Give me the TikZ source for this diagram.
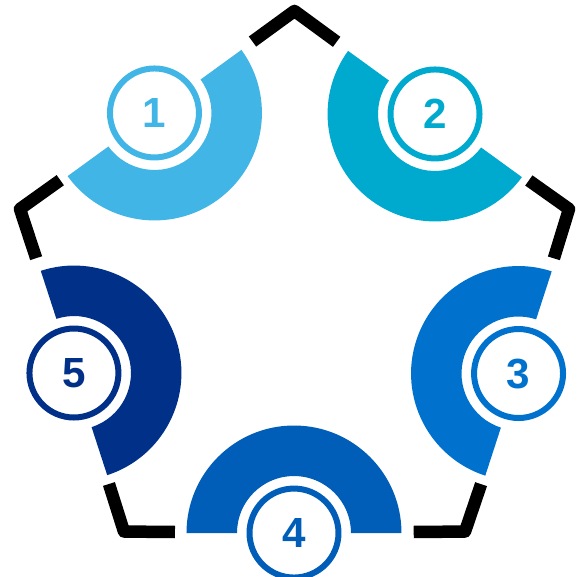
\documentclass[tikz,border=0pt]{standalone}
\usepackage{fontspec}
\setmainfont{Liberation Sans}
\usepackage{tikz}
\usetikzlibrary{calc}
\definecolor{stepone}{HTML}{41B6E6}
\definecolor{steptwo}{HTML}{00A9CE}
\definecolor{stepthree}{HTML}{0072CE}
\definecolor{stepfour}{HTML}{005EB8}
\definecolor{stepfive}{HTML}{003087}
\tikzset{
  frame line/.style={
    line width=0.25cm,
    black,
    line join=round
  },
  num circle/.style={
    circle,
    draw=#1,
    line width=0.12cm,
    fill=white,
    minimum size=1.78cm,
    inner sep=0pt,
    text=#1,
    font=\fontsize{24}{24}\selectfont\bfseries
  }
}

\begin{document}
\begin{tikzpicture}[scale=0.02]
  \useasboundingbox (-294.5,-277) rectangle (282.5,300);

  % pentagon corners and edge midpoints
  \coordinate (v1) at (0,289);
  \coordinate (v2) at (274.5,91);
  \coordinate (v3) at (170.5,-231.5);
  \coordinate (v4) at (-170.5,-231.5);
  \coordinate (v5) at (-274.5,91);
  \coordinate (m1) at (-140,187);
  \coordinate (m2) at (140.5,186);
  \coordinate (m3) at (224,-73.5);
  \coordinate (m4) at (-0.5,-233);
  \coordinate (m5) at (-220.5,-73);

  % black corner pieces
  \draw[frame line] ($(v1)!0.3!(m1)$) -- (v1) -- ($(v1)!0.3!(m2)$);
  \draw[frame line] ($(v2)!0.3!(m2)$) -- (v2) -- ($(v2)!0.3!(m3)$);
  \draw[frame line] ($(v3)!0.3!(m3)$) -- (v3) -- ($(v3)!0.3!(m4)$);
  \draw[frame line] ($(v4)!0.3!(m4)$) -- (v4) -- ($(v4)!0.3!(m5)$);
  \draw[frame line] ($(v5)!0.3!(m5)$) -- (v5) -- ($(v5)!0.3!(m1)$);

  % half rings
  \begin{scope}[shift={(-140,187)}, rotate=126]
    \fill[stepone] (90:107.5) arc[start angle=90, end angle=270, radius=107.5] -- (270:57) arc[start angle=270, end angle=90, radius=57] -- cycle;
  \end{scope}
  \begin{scope}[shift={(140.5,186)}, rotate=54]
    \fill[steptwo] (90:107.5) arc[start angle=90, end angle=270, radius=107.5] -- (270:57) arc[start angle=270, end angle=90, radius=57] -- cycle;
  \end{scope}
  \begin{scope}[shift={(224,-73.5)}, rotate=-18]
    \fill[stepthree] (90:107.5) arc[start angle=90, end angle=270, radius=107.5] -- (270:57) arc[start angle=270, end angle=90, radius=57] -- cycle;
  \end{scope}
  \begin{scope}[shift={(-0.5,-233)}, rotate=-90]
    \fill[stepfour] (90:107.5) arc[start angle=90, end angle=270, radius=107.5] -- (270:57) arc[start angle=270, end angle=90, radius=57] -- cycle;
  \end{scope}
  \begin{scope}[shift={(-220.5,-73)}, rotate=198]
    \fill[stepfive] (90:107.5) arc[start angle=90, end angle=270, radius=107.5] -- (270:57) arc[start angle=270, end angle=90, radius=57] -- cycle;
  \end{scope}

  % numbers
  \node[num circle=stepone] (n1) at (m1) {1};
  \node[num circle=steptwo] (n2) at (m2) {2};
  \node[num circle=stepthree] (n3) at (m3) {3};
  \node[num circle=stepfour] (n4) at (m4) {4};
  \node[num circle=stepfive] (n5) at (m5) {5};
\end{tikzpicture}
\end{document}
